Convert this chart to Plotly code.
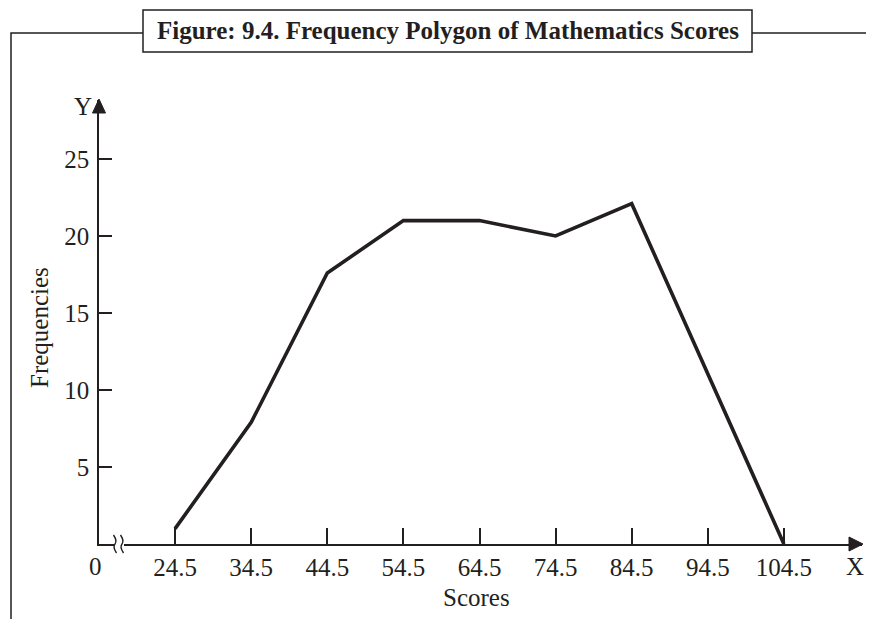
import plotly.graph_objects as go

# ---- data ----
scores = [24.5, 34.5, 44.5, 54.5, 64.5, 74.5, 84.5, 94.5, 104.5]
frequencies = [1.0, 7.9, 17.6, 21.0, 21.0, 20.0, 22.1, 11.0, 0.0]
y_ticks = [5, 10, 15, 20, 25]
x_tick_labels = ["24.5", "34.5", "44.5", "54.5", "64.5", "74.5", "84.5", "94.5", "104.5"]

W, H = 874, 619
OFF = 8                           # page body margin
L, R, T, B = 99, 862, 100, 544    # plot-area box in screen pixels
INK = "#231f20"
FONT = "Liberation Serif"
FS = 25


def px(xp):
    return (xp - L) / (R - L)


def py(yp):
    return (B - yp) / (B - T)


fig = go.Figure()
fig.add_trace(go.Scatter(
    x=scores, y=frequencies, mode="lines",
    line=dict(color=INK, width=3.6), hoverinfo="skip", showlegend=False,
))

shapes = []
# arrowheads
shapes.append(dict(type="path", xref="paper", yref="paper",
                   path=f"M {px(849)} {py(537)} L {px(863)} {py(544)} L {px(849)} {py(551)} Z",
                   fillcolor=INK, line=dict(color=INK, width=1)))
shapes.append(dict(type="path", xref="paper", yref="paper",
                   path=f"M {px(92.5)} {py(113)} L {px(99)} {py(99)} L {px(105.5)} {py(113)} Z",
                   fillcolor=INK, line=dict(color=INK, width=1)))
# axis break
shapes.append(dict(type="rect", xref="paper", yref="paper",
                   x0=px(114), x1=px(124), y0=py(541), y1=py(547),
                   fillcolor="white", line=dict(width=0)))
for x0 in (115, 122):
    shapes.append(dict(type="path", xref="paper", yref="paper",
                       path=(f"M {px(x0 - 1.5)} {py(535)} Q {px(x0 + 2.5)} {py(541)} {px(x0)} {py(544)} "
                             f"Q {px(x0 - 2.5)} {py(547)} {px(x0 + 1.5)} {py(553)}"),
                       line=dict(color=INK, width=1.4)))
# frame
shapes.append(dict(type="path", xref="paper", yref="paper",
                   path=f"M {px(143)} {py(33)} L {px(11)} {py(33)} L {px(11)} {py(640)}",
                   line=dict(color=INK, width=1.5)))
shapes.append(dict(type="line", xref="paper", yref="paper",
                   x0=px(752), x1=px(890), y0=py(33), y1=py(33),
                   line=dict(color=INK, width=1.5)))
shapes.append(dict(type="rect", xref="paper", yref="paper",
                   x0=px(143), x1=px(752), y0=py(10), y1=py(52),
                   fillcolor="white", line=dict(color=INK, width=1.5)))


def ann(text, x, y, size=FS, **kw):
    return dict(text=text, x=px(x), y=py(y), xref="paper", yref="paper", showarrow=False,
                xanchor="center", yanchor="middle",
                font=dict(family=FONT, size=size, color=INK), **kw)


annotations = [
    ann("<b>Figure: 9.4. Frequency Polygon of Mathematics Scores</b>", 447.5, 31, size=25),
    ann("Y", 83, 107),
    ann("X", 855, 566),
    ann("0", 95, 566),
    ann("Scores", 476, 597),
    ann("Frequencies", 39, 328, textangle=-90),
]

fig.update_layout(
    width=W, height=H,
    margin=dict(l=L - OFF, r=W - R + OFF, t=T - OFF, b=H - B + OFF, pad=0),
    paper_bgcolor="white", plot_bgcolor="white",
    shapes=shapes, annotations=annotations,
    xaxis=dict(range=[14.5, 14.5 + (R - L) / 7.61], tickvals=scores, ticktext=x_tick_labels,
               ticks="inside", ticklen=16, tickwidth=1.5, tickcolor=INK,
               showline=True, linecolor=INK, linewidth=1.5, showgrid=False, zeroline=False,
               tickfont=dict(family=FONT, size=FS, color=INK), ticklabelstandoff=0),
    yaxis=dict(range=[0, (B - T) / 15.4], tickvals=y_ticks,
               ticks="inside", ticklen=13, tickwidth=1.5, tickcolor=INK,
               showline=True, linecolor=INK, linewidth=1.5, showgrid=False, zeroline=False,
               tickfont=dict(family=FONT, size=FS, color=INK), ticklabelstandoff=3),
)

fig.write_html("out.html")
